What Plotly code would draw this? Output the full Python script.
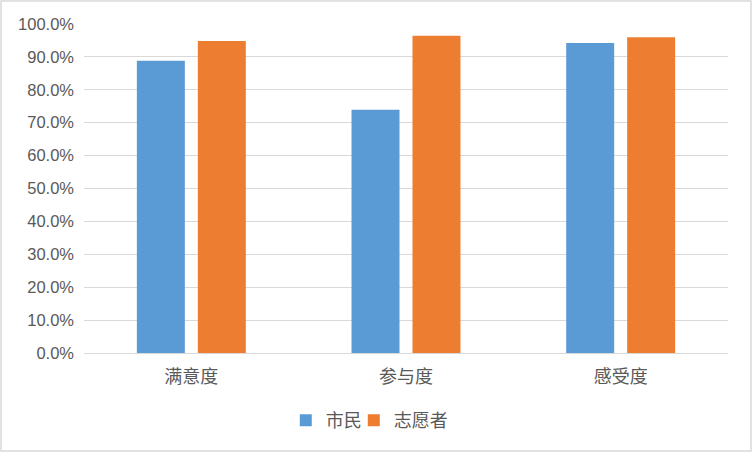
import plotly.graph_objects as go

categories = ["满意度", "参与度", "感受度"]
citizen = [0.888, 0.739, 0.942]
volunteer = [0.948, 0.964, 0.960]
tick_vals = [i / 10 for i in range(11)]
tick_text = [f"{v*100:.1f}%" for v in tick_vals]

PW, PH = 644, 329
fig = go.Figure()
fig.add_trace(go.Bar(name="市民", x=categories, y=citizen, marker_color="#5B9BD5",
                     marker_line_width=0, legendwidth=23))
fig.add_trace(go.Bar(name="志愿者", x=categories, y=volunteer, marker_color="#ED7D31",
                     marker_line_width=0))

fig.update_layout(
    width=752, height=452,
    margin=dict(l=84, r=24, t=24, b=99),
    paper_bgcolor="white", plot_bgcolor="white",
    barmode="group", bargap=0.432, bargroupgap=0.213,
    font=dict(family="Liberation Sans, Noto Sans CJK SC", size=16, color="#595959"),
    showlegend=True,
    legend=dict(orientation="h", x=0.443, xanchor="center", y=-0.205, yanchor="middle",
                font=dict(family="Noto Sans CJK SC", size=18, color="#595959"),
                traceorder="normal", itemwidth=30),
    xaxis=dict(showgrid=False, showline=True, linecolor="#d9d9d9", linewidth=1,
               tickfont=dict(family="Noto Sans CJK SC", size=18, color="#595959"),
               ticks="", ticklen=0, ticklabelstandoff=7),
    yaxis=dict(range=[0, 1.0], tickvals=tick_vals, ticktext=tick_text,
               showgrid=True, gridcolor="#d9d9d9", gridwidth=1, zeroline=False,
               ticks="", ticklabelstandoff=9,
               tickfont=dict(family="Liberation Sans", size=16.5, color="#595959")),
    shapes=[dict(type="rect", xref="paper", yref="paper",
                 x0=-83/PW, x1=1 + 23/PW, y0=-98/PH, y1=1 + 23/PH,
                 line=dict(color="#d9d9d9", width=1.5))],
)

fig.write_html("out.html", config={"displayModeBar": False},
               post_script="document.body.style.margin='0';")
